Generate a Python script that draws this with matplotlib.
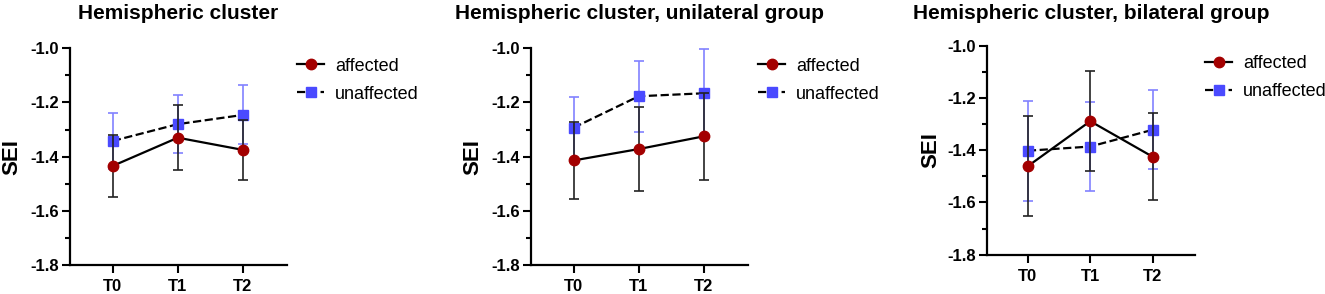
import matplotlib.pyplot as plt
from matplotlib.ticker import MultipleLocator

plt.rcParams['font.family'] = ['Liberation Sans', 'DejaVu Sans']
plt.rcParams['axes.unicode_minus'] = False

times = ["T0", "T1", "T2"]
titles = ["Hemispheric cluster",
          "Hemispheric cluster, unilateral group",
          "Hemispheric cluster, bilateral group"]

# mean and error (SEM) per panel
affected = [[-1.434, -1.330, -1.375],
            [-1.414, -1.372, -1.325],
            [-1.461, -1.289, -1.425]]
affected_err = [[0.115, 0.120, 0.111],
                [0.143, 0.156, 0.160],
                [0.192, 0.192, 0.166]]
unaffected = [[-1.342, -1.280, -1.246],
              [-1.293, -1.177, -1.166],
              [-1.402, -1.386, -1.322]]
unaffected_err = [[0.105, 0.107, 0.109],
                  [0.115, 0.131, 0.162],
                  [0.191, 0.169, 0.151]]

positions = [[0.0528, 0.0986, 0.1638, 0.7371],
             [0.4005, 0.0986, 0.1640, 0.7371],
             [0.7447, 0.1337, 0.1572, 0.7109]]
title_pads = [21, 21, 19]

fig = plt.figure(figsize=(13.25, 2.94), dpi=100)

for i in range(3):
    ax = fig.add_axes(positions[i])
    x = list(range(len(times)))
    ax.errorbar(x, unaffected[i], yerr=unaffected_err[i], color='black', ls='--', lw=1.6,
                marker='s', ms=6.5, mfc='#4a4aff', mec='#4a4aff', ecolor='#8282ff',
                elinewidth=1.2, capsize=3.5, capthick=1.2, label='unaffected', zorder=2)
    ax.errorbar(x, affected[i], yerr=affected_err[i], color='black', ls='-', lw=1.6,
                marker='o', ms=7.5, mfc='#a30000', mec='#a30000', ecolor='#222222',
                elinewidth=1.2, capsize=3.5, capthick=1.2, label='affected', zorder=3)

    ax.set_xlim(-0.66, 2.68)
    ax.set_ylim(-1.8, -1.0)
    ax.set_xticks(x)
    ax.set_xticklabels(times)
    ax.yaxis.set_major_locator(MultipleLocator(0.2))
    ax.yaxis.set_minor_locator(MultipleLocator(0.1))
    ax.yaxis.set_major_formatter(plt.FormatStrFormatter('%.1f'))
    for s in ['top', 'right']:
        ax.spines[s].set_visible(False)
    for s in ['left', 'bottom']:
        ax.spines[s].set_linewidth(1.6)
    ax.tick_params(axis='both', which='major', length=6, width=1.5, pad=2, labelsize=12)
    ax.tick_params(axis='x', which='major', pad=4)
    ax.tick_params(axis='y', which='minor', length=3.5, width=1.5)
    for lab in ax.get_xticklabels() + ax.get_yticklabels():
        lab.set_fontweight('bold')
    ax.set_ylabel("SEI", fontsize=16, fontweight='bold')
    ax.yaxis.set_label_coords(-0.22, 0.5)
    ax.set_title(titles[i], fontsize=15, fontweight='bold', pad=title_pads[i])

    h, l = ax.get_legend_handles_labels()
    hs = [hh[0] for hh in h]
    ax.legend(hs[::-1], l[::-1], loc='upper left', bbox_to_anchor=(1.014, 0.99),
              frameon=False, fontsize=13, handlelength=1.5, handletextpad=0.6,
              labelspacing=0.6, borderaxespad=0)

fig.savefig("out.png", dpi=100)
